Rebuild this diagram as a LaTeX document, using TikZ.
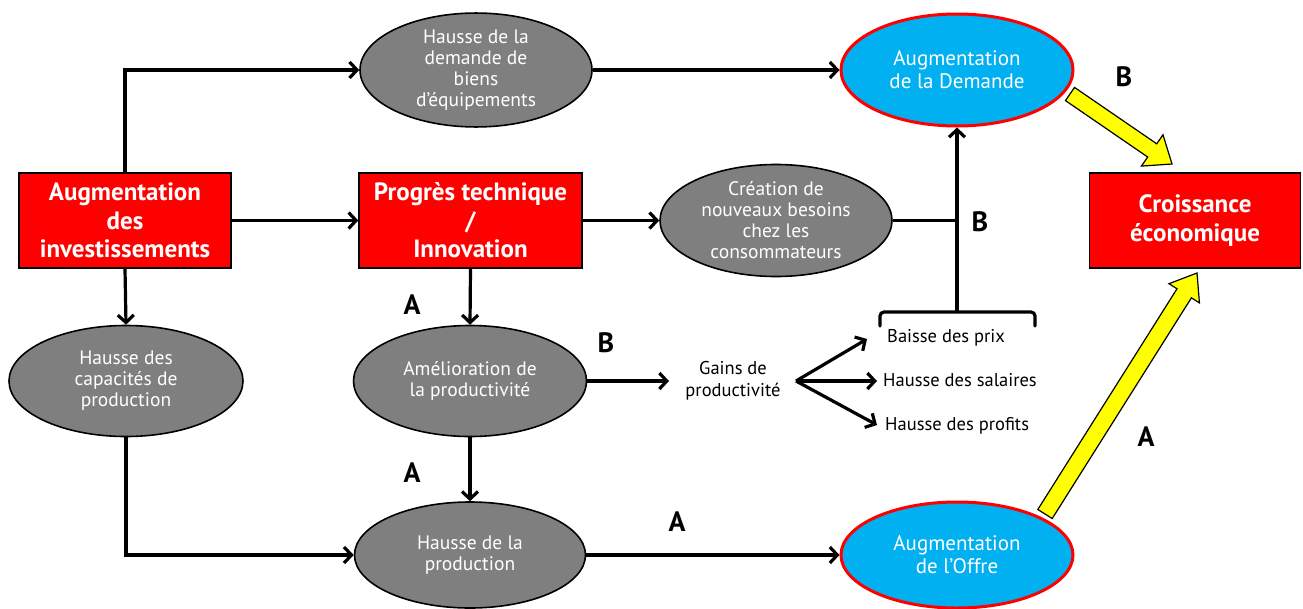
\documentclass[tikz,border=0pt]{standalone}
\usepackage{fontspec}
\setmainfont{PT Sans}
\usetikzlibrary{arrows.meta,shapes.geometric,calc}
\definecolor{boxred}{HTML}{FF0000}
\definecolor{ellgrey}{HTML}{7F7F7F}
\definecolor{ellblue}{HTML}{00B0F0}
\definecolor{arrowyellow}{HTML}{FFFF00}
\begin{document}
\begin{tikzpicture}[x=1pt,y=-1pt,
  arr/.style={line width=3.2pt,-{Straight Barb[length=7.5pt,width=16pt,line width=3.2pt]}},
  conn/.style={line width=3.2pt},
  redbox/.style={rectangle,draw=black,line width=1.4pt,fill=boxred,text=white,
    font=\fontsize{25}{28.5}\selectfont\bfseries,align=center,minimum height=95pt,inner sep=0pt},
  greyell/.style={ellipse,draw=black,line width=1.6pt,fill=ellgrey,text=white,
    font=\fontsize{19.5}{21}\selectfont,align=center,inner sep=0pt},
  blueell/.style={ellipse,draw=boxred,line width=3pt,fill=ellblue,text=white,
    font=\fontsize{21}{23}\selectfont,align=center,inner sep=0pt,
    minimum width=232pt},
  lbl/.style={font=\fontsize{28}{28}\selectfont\bfseries},
  smalltxt/.style={font=\fontsize{18.5}{22}\selectfont,align=center,inner sep=0pt},
  yarr/.style={fill=arrowyellow,draw=black,line width=1.2pt,line join=miter}]
\fill[white] (0,0) rectangle (1303,608);
\useasboundingbox (0,0) rectangle (1303,608);

% red boxes
\node[redbox,minimum width=212pt] (inv) at (125,220.5) {Augmentation\\des\\investissements};
\node[redbox,minimum width=223pt] (prog) at (470.5,220.5) {Progrès technique\\/\\Innovation};
\node[redbox,minimum width=211pt] (croiss) at (1195,220.5) {Croissance\\économique};

% grey ellipses
\node[greyell,minimum width=232pt,minimum height=112pt] (hdem) at (476,70) {Hausse de la\\demande de\\biens\\d’équipements};
\node[greyell,minimum width=232pt,minimum height=112pt] (creat) at (776,220.5) {Création de\\nouveaux besoins\\chez les\\consommateurs};
\node[greyell,minimum width=234pt,minimum height=111pt] (capac) at (126,381) {Hausse des\\capacités de\\production};
\node[greyell,minimum width=233pt,minimum height=111pt] (amel) at (470,381) {Amélioration de\\la productivité};
\node[greyell,minimum width=231pt,minimum height=106pt] (hprod) at (470,555) {Hausse de la\\production};

% blue ellipses
\node[blueell,minimum height=112pt] (dem) at (957,70) {Augmentation\\de la Demande};
\node[blueell,minimum height=106pt] (offre) at (957,555) {Augmentation\\de l’Offre};

% small texts
\node[smalltxt] (gains) at (733,381) {Gains de\\productivité};
\node[smalltxt,anchor=west] (prix) at (887,338) {Baisse des prix};
\node[smalltxt,anchor=west] (sal) at (883,380) {Hausse des salaires};
\node[smalltxt,anchor=west] (prof) at (885,426) {Hausse des profits};

% connectors
\draw[arr] (inv.north) |- (hdem.west);
\draw[arr] (inv.east) -- (prog.west);
\draw[arr] (hdem.east) -- (dem.west);
\draw[arr] (prog.east) -- (creat.west);
\draw[arr] (inv.south) -- (capac.north);
\draw[arr] (prog.south) -- (amel.north);
\draw[arr] (amel.south) -- (hprod.north);
\draw[arr] (capac.south) |- (hprod.west);
\draw[arr] (hprod.east) -- (offre.west);
\coordinate (gin) at (669,381);
\draw[arr] (amel.east) -- (gin);

% fan
\coordinate (fan) at (796,381);
\draw[arr] (fan) -- (867,339);
\draw[arr] (fan) -- (877,381);
\draw[arr] (fan) -- (877,425);

% brace
\coordinate (btip) at (957,312);
\draw[conn,rounded corners=4pt,line cap=round] (880,326) -- (880,312) -- (1035,312) -- (1035,326);
\draw[arr] (btip) -- (dem.south);
\draw[conn] (creat.east) -- (creat.east -| btip);

% yellow arrows
\coordinate (y1s) at (1070,94);
\coordinate (y1e) at (1172,164);
\coordinate (y1m) at ($(y1e)!24pt!(y1s)$);
\draw[yarr] ($(y1s)!8pt!90:(y1e)$) -- ($(y1m)!8pt!90:(y1e)$) -- ($(y1m)!19pt!90:(y1e)$) -- (y1e)
  -- ($(y1m)!19pt!-90:(y1e)$) -- ($(y1m)!8pt!-90:(y1e)$) -- ($(y1s)!8pt!-90:(y1e)$) -- cycle;
\coordinate (y2s) at (1045,514);
\coordinate (y2e) at (1197,273);
\coordinate (y2m) at ($(y2e)!24pt!(y2s)$);
\draw[yarr] ($(y2s)!8.5pt!90:(y2e)$) -- ($(y2m)!8.5pt!90:(y2e)$) -- ($(y2m)!18pt!90:(y2e)$) -- (y2e)
  -- ($(y2m)!18pt!-90:(y2e)$) -- ($(y2m)!8.5pt!-90:(y2e)$) -- ($(y2s)!8.5pt!-90:(y2e)$) -- cycle;

% letter labels
\node[lbl] (la1) at (412,305) {A};
\node[lbl] (la2) at (412,473) {A};
\node[lbl] (lb1) at (606,343) {B};
\node[lbl] (la3) at (677,522) {A};
\node[lbl] (lb2) at (980,222) {B};
\node[lbl] (lb3) at (1124,77) {B};
\node[lbl] (la4) at (1146,437) {A};
\end{tikzpicture}
\end{document}
